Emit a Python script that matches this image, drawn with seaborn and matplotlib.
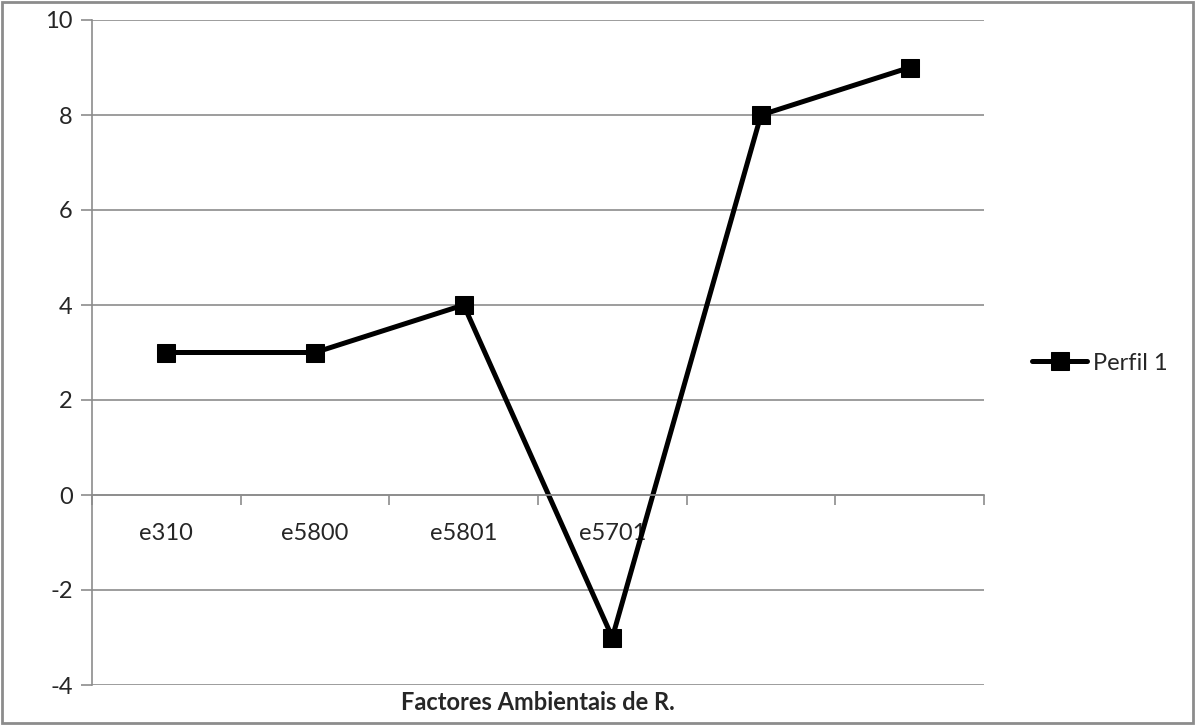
import matplotlib
matplotlib.use("Agg")
import matplotlib.pyplot as plt
import seaborn as sns
import numpy as np
import pandas as pd
from matplotlib.patches import Rectangle

categories = ["e310", "e5800", "e5801", "e5701", "", ""]
values = [3, 3, 4, -3, 8, 9]
series_name = "Perfil 1"
y_ticks = [-4, -2, 0, 2, 4, 6, 8, 10]
x_title = "Factores Ambientais de R."

sns.set_theme(style="white")
plt.rcParams['font.family'] = ['Lato', 'DejaVu Sans']

grid_c = "#8c8c8c"
fig = plt.figure(figsize=(11.95, 7.25), dpi=100)
ax = fig.add_axes([92/1195, 1-685/725, (984-92)/1195, 665/725])

df = pd.DataFrame({"pos": np.arange(len(values)), "val": values, "s": series_name})
sns.lineplot(data=df, x="pos", y="val", hue="s", palette=["black"], marker="s",
             markersize=13, linewidth=3.6, markeredgecolor="black", ax=ax, legend=True)

ax.set_xlim(-0.5, len(values) - 0.5)
ax.set_ylim(-4, 10)
ax.set_yticks(y_ticks)
ax.set_yticklabels([str(v) for v in y_ticks], fontsize=17)
ax.yaxis.grid(True, color=grid_c, linewidth=1.2)
ax.set_axisbelow(True)

for s in ["top", "right"]:
    ax.spines[s].set_visible(False)
ax.spines["left"].set_color(grid_c)
ax.spines["left"].set_linewidth(1.2)
ax.spines["bottom"].set_position(("data", 0))
ax.spines["bottom"].set_color(grid_c)
ax.spines["bottom"].set_linewidth(1.2)

ax.set_xticks(np.arange(len(values)))
ax.set_xticklabels(categories, fontsize=17)
ax.set_xticks(np.arange(len(values) + 1) - 0.5, minor=True)
ax.tick_params(axis="x", which="major", bottom=True, length=0, pad=20)
ax.tick_params(axis="x", which="minor", bottom=True, length=7, width=1.2, color=grid_c, direction="out")
ax.tick_params(axis="y", length=8, width=1.2, color=grid_c, direction="out", left=True, pad=6)
ax.set_xlabel("")
ax.set_ylabel("")

fig.text(538/1195, 1-703/725, x_title, ha="center", va="center", fontsize=17, fontweight="bold")

leg = ax.legend(loc="center left", bbox_to_anchor=((1032-92)/892, (685-363)/665),
                frameon=False, fontsize=17, handlelength=2.35, handletextpad=0.25,
                borderaxespad=0, borderpad=0)

fig.patches.append(Rectangle((0.002, 0.003), 0.996, 0.994, transform=fig.transFigure,
                             fill=False, edgecolor=grid_c, linewidth=2))

fig.savefig("out.png", dpi=100)
